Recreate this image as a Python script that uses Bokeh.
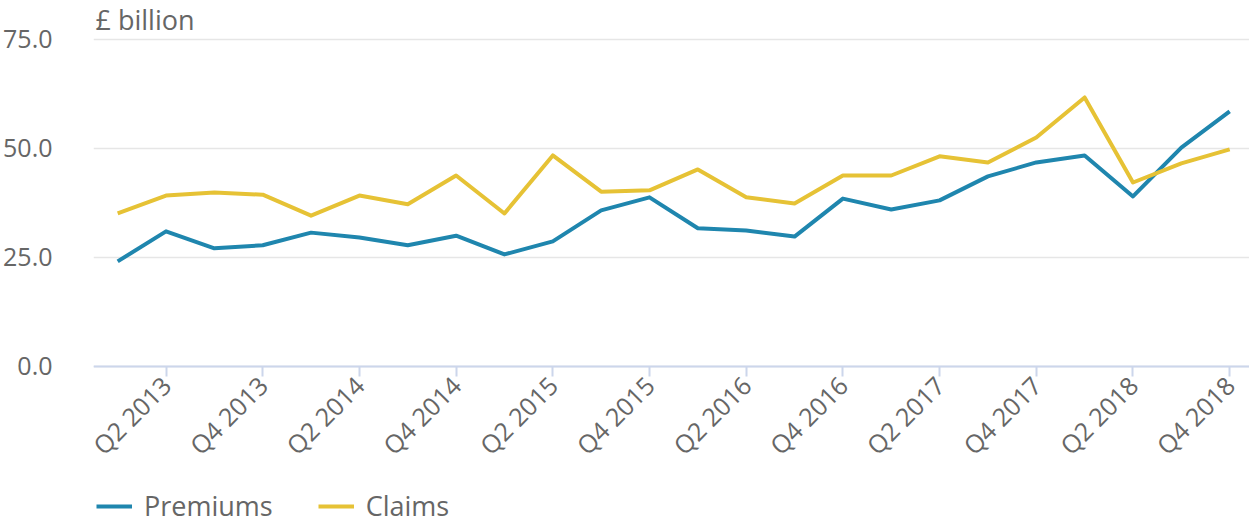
import math
from bokeh.plotting import figure
from bokeh.models import (ColumnDataSource, Range1d, FixedTicker, NumeralTickFormatter,
                          Legend, LegendItem, CustomJSTickFormatter, Label)
from bokeh.embed import file_html
from bokeh.resources import INLINE

quarters = ["Q1 2013", "Q2 2013", "Q3 2013", "Q4 2013",
            "Q1 2014", "Q2 2014", "Q3 2014", "Q4 2014",
            "Q1 2015", "Q2 2015", "Q3 2015", "Q4 2015",
            "Q1 2016", "Q2 2016", "Q3 2016", "Q4 2016",
            "Q1 2017", "Q2 2017", "Q3 2017", "Q4 2017",
            "Q1 2018", "Q2 2018", "Q3 2018", "Q4 2018"]
premiums = [24.1, 31.0, 27.1, 27.8, 30.7, 29.6, 27.8, 30.0,
            25.7, 28.7, 35.8, 38.8, 31.7, 31.2, 29.8, 38.5,
            36.0, 38.1, 43.6, 46.8, 48.4, 39.0, 50.2, 58.5]
claims = [35.1, 39.2, 39.9, 39.4, 34.6, 39.2, 37.2, 43.8,
          35.1, 48.4, 40.1, 40.4, 45.2, 38.8, 37.4, 43.8,
          43.8, 48.2, 46.8, 52.5, 61.7, 42.2, 46.6, 49.8]
y_ticks = [0, 25, 50, 75]

FONT = "Open Sans"
GREY = "#666666"
BLUE = "#1f86ae"
YELLOW = "#e6c235"

idx = list(range(len(quarters)))
src = ColumnDataSource(dict(x=idx, premiums=premiums, claims=claims))

# frame covers the whole height; the x axis is pinned at y = 0
p = figure(width=1249, height=524, output_backend="svg", toolbar_location=None,
           x_range=Range1d(-0.5, 23.41), y_range=Range1d(-36.24, 83.94),
           min_border_left=93, min_border_right=0, min_border_top=0, min_border_bottom=0)
p.outline_line_color = None
p.background_fill_color = "white"
p.border_fill_color = "white"

r1 = p.line("x", "premiums", source=src, line_color=BLUE, line_width=4, line_join="round")
r2 = p.line("x", "claims", source=src, line_color=YELLOW, line_width=4, line_join="round")

# y axis
p.yaxis.ticker = FixedTicker(ticks=y_ticks)
p.yaxis.formatter = NumeralTickFormatter(format="0.0")
p.yaxis.axis_line_color = None
p.yaxis.major_tick_line_color = None
p.yaxis.minor_tick_line_color = None
p.yaxis.major_label_text_font = FONT
p.yaxis.major_label_text_font_size = "25px"
p.yaxis.major_label_text_color = GREY
p.yaxis.major_label_standoff = 35
p.ygrid.grid_line_color = "#e6e6e6"
p.ygrid.grid_line_width = 1.5
p.xgrid.grid_line_color = None

# x axis
p.xaxis.fixed_location = 0
p.xaxis.ticker = FixedTicker(ticks=[i for i in idx if i % 2 == 1])
p.xaxis.formatter = CustomJSTickFormatter(args=dict(labels=quarters),
                                          code="return labels[Math.round(tick)];")
p.xaxis.axis_line_color = "#ccd6eb"
p.xaxis.axis_line_width = 2
p.xaxis.major_tick_line_color = "#ccd6eb"
p.xaxis.major_tick_line_width = 2
p.xaxis.major_tick_out = 10
p.xaxis.major_tick_in = 0
p.xaxis.minor_tick_line_color = None
p.xaxis.major_label_orientation = math.pi / 4
p.xaxis.major_label_text_font = FONT
p.xaxis.major_label_text_font_size = "25px"
p.xaxis.major_label_text_color = GREY
p.xaxis.major_label_standoff = 4

# unit label
unit = Label(x=2, y=79.5, x_units="screen", y_units="data",
             text="£ billion", text_font=FONT, text_font_size="27px",
             text_color=GREY, text_baseline="alphabetic", text_align="left")
p.add_layout(unit)

legend = Legend(items=[LegendItem(label="Premiums", renderers=[r1]),
                       LegendItem(label="Claims", renderers=[r2])],
                orientation="horizontal", location=(3, 0),
                label_text_font=FONT, label_text_font_size="27px", label_text_color=GREY,
                glyph_width=36, glyph_height=20, label_height=20, label_standoff=12, spacing=45,
                border_line_color=None, background_fill_alpha=0,
                padding=0, margin=0)
p.add_layout(legend, "center")

open("out.html", "w").write(file_html(p, INLINE))
